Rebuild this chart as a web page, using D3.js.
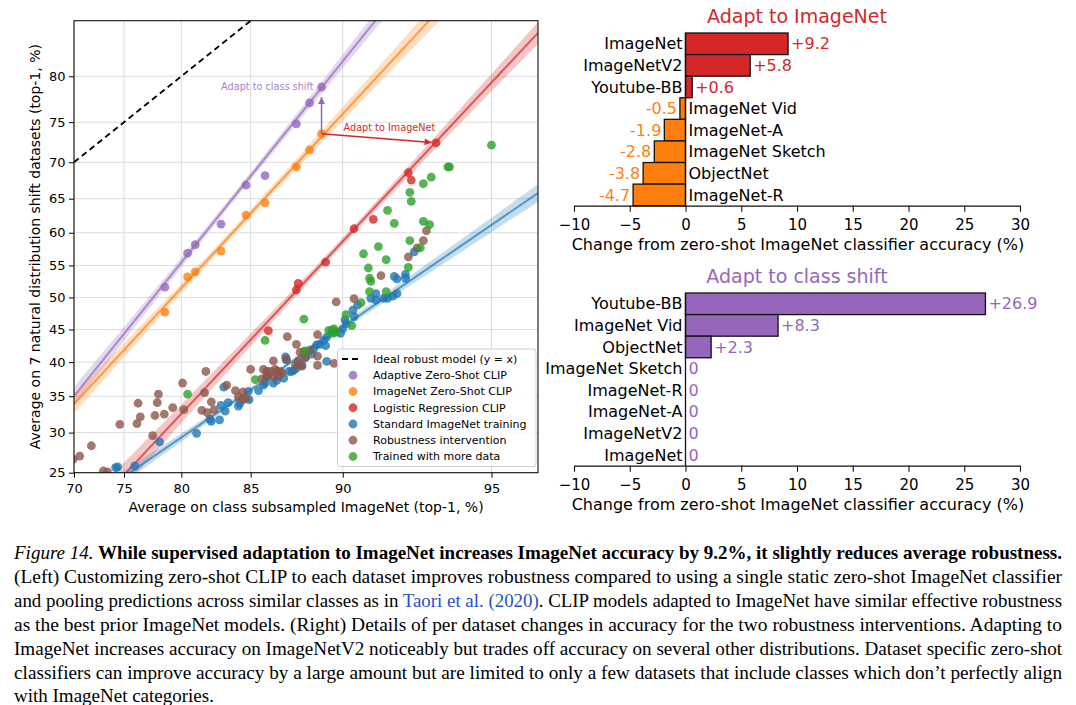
<!DOCTYPE html>
<html><head><meta charset="utf-8">
<script src="https://cdn.jsdelivr.net/npm/d3@7"></script>
<style>body{margin:0;background:#fff}svg{display:block}text{font-family:"DejaVu Sans",sans-serif}</style>
</head><body>
<svg id="c" width="1076" height="705"></svg>
<script>
// ---------------- DATA ----------------
const xTicks = [70,75,80,85,90,95];
const yTicks = [25,30,35,40,45,50,55,60,65,70,75,80];

const clipX      = [78.65,80.5,81.1,83.0,84.7,85.9,87.7,88.4,89.0];
const adaptiveY  = [51.6,56.9,58.2,61.3,66.9,68.2,74.8,77.2,78.9];
const zeroShotY  = [47.7,53.2,54.0,57.2,62.6,64.4,69.4,71.6,73.6];
const logregX    = [86.1,87.7,87.8,89.2,90.5,91.3,92.6,92.7,93.5];
const logregY    = [44.8,51.2,52.2,55.5,60.6,62.0,68.6,67.6,72.5];

const standardPts = [[74.2,25.6],[74.4,25.7],[76.0,25.8],[78.2,28.8],[81.2,29.9],[82.3,31.5],[82.2,31.8],[82.9,31.7],[83.3,32.9],[83.0,33.7],[83.5,34.1],[84.2,33.6],[84.3,34.0],[83.2,36.3],[84.9,34.5],[84.85,35.7],[85.5,35.8],[85.8,36.6],[85.9,36.9],[86.0,37.7],[86.4,36.9],[86.6,37.3],[87.0,37.6],[87.3,38.6],[87.45,38.6],[87.55,38.75],[87.7,39.1],[88.0,39.5],[87.1,40.8],[87.15,40.3],[87.8,39.8],[88.15,40.7],[88.5,41.2],[88.6,42.0],[88.75,42.6],[88.9,42.7],[89.1,43.3],[89.25,43.8],[89.2,42.5],[89.25,40.1],[89.9,44.4],[90.0,45.1],[90.15,45.9],[90.1,46.5],[90.45,48.0],[90.5,47.0],[90.65,48.8],[91.2,49.85],[91.4,49.6],[91.4,50.6],[91.7,49.85],[91.85,49.85],[92.05,50.2],[92.2,50.6],[92.1,53.3],[92.2,52.9],[92.5,53.6],[92.5,53.0],[92.8,57.1]];
const robustPts = [[69.9,26.6],[70.6,27.0],[71.8,28.3],[73.0,25.2],[73.4,25.1],[74.6,31.1],[76.3,34.0],[76.5,32.1],[76.2,31.2],[77.6,29.6],[77.8,32.3],[78.0,34.1],[78.1,35.3],[78.6,32.5],[79.3,33.4],[80.1,36.9],[80.2,33.1],[81.8,35.5],[81.9,38.6],[81.6,33.0],[82.0,32.7],[82.3,34.2],[82.5,33.1],[83.4,36.6],[84.0,35.8],[84.5,35.6],[84.2,34.9],[84.5,34.5],[84.7,34.7],[85.0,38.9],[85.8,38.9],[86.0,38.6],[86.2,38.6],[86.5,38.9],[86.6,38.6],[86.8,38.6],[86.7,37.9],[86.4,37.9],[86.0,37.9],[85.7,37.5],[86.9,38.4],[87.15,40.5],[86.4,40.2],[87.2,43.9],[87.7,42.7],[87.9,41.5],[88.1,41.5],[88.4,41.8],[88.2,40.7],[88.8,40.9],[88.8,39.5],[87.8,40.2],[88.0,39.4],[87.65,39.5],[88.8,44.2],[89.6,39.8],[89.7,49.3],[90.5,49.8],[91.6,53.4],[92.6,56.3],[92.9,57.7],[93.1,58.8],[93.2,60.3]];
const moreDataPts = [[80.5,35.3],[85.3,37.4],[85.9,43.3],[88.1,46.6],[88.15,41.7],[89.35,44.85],[89.5,44.85],[89.6,45.1],[89.7,44.6],[89.55,44.4],[90.15,47.3],[90.4,45.6],[90.8,49.2],[91.15,50.9],[91.8,50.9],[91.1,54.6],[91.15,53.0],[91.2,52.5],[90.9,56.8],[91.8,55.9],[91.5,57.9],[92.6,54.7],[92.65,58.8],[93.0,57.7],[92.1,61.4],[93.1,61.7],[93.3,61.2],[91.85,63.3],[92.65,65.9],[92.7,64.6],[93.1,67.1],[93.35,68.0],[93.85,69.4],[93.9,69.4],[95.0,72.2]];

// fitted trend lines: two anchor points (data %) + confidence band params (logit units)
const fitNames   = ["adaptive","zeroshot","logreg","standard"];
const fitAnchors = [[[70,35.0],[91.4,85.05]],[[70,33.9],[93.3,85.05]],[[75.2,25],[96,84.0]],[[75.55,25],[96,65.8]]];
const fitBand    = [[84,0.024,0.066],[84,0.024,0.066],[90,0.024,0.066],[87,0.014,0.042]];

const legendLabels = ["Ideal robust model (y = x)","Adaptive Zero-Shot CLIP","ImageNet Zero-Shot CLIP","Logistic Regression CLIP","Standard ImageNet training","Robustness intervention","Trained with more data"];

const imagenetCats  = ["ImageNet","ImageNetV2","Youtube-BB","ImageNet Vid","ImageNet-A","ImageNet Sketch","ObjectNet","ImageNet-R"];
const imagenetDelta = [9.2,5.8,0.6,-0.5,-1.9,-2.8,-3.8,-4.7];
const classCats     = ["Youtube-BB","ImageNet Vid","ObjectNet","ImageNet Sketch","ImageNet-R","ImageNet-A","ImageNetV2","ImageNet"];
const classDelta    = [26.9,8.3,2.3,0,0,0,0,0];
const barTicks      = [-10,-5,0,5,10,15,20,25,30];

const captionLines = [
 [["Figure 14.","i"],[" While supervised adaptation to ImageNet increases ImageNet accuracy by 9.2%, it slightly reduces average robustness.","b"]],
 [["(Left) Customizing zero-shot CLIP to each dataset improves robustness compared to using a single static zero-shot ImageNet classifier",""]],
 [["and pooling predictions across similar classes as in ",""],["Taori et al.","l"],[" ",""],["(2020)","l"],[". CLIP models adapted to ImageNet have similar effective robustness",""]],
 [["as the best prior ImageNet models. (Right) Details of per dataset changes in accuracy for the two robustness interventions. Adapting to",""]],
 [["ImageNet increases accuracy on ImageNetV2 noticeably but trades off accuracy on several other distributions. Dataset specific zero-shot",""]],
 [["classifiers can improve accuracy by a large amount but are limited to only a few datasets that include classes which don\u2019t perfectly align",""]],
 [["with ImageNet categories.",""]]
];

(function(){
const C = {blue:"#1f77b4",orange:"#ff7f0e",green:"#2ca02c",red:"#d62728",purple:"#9467bd",brown:"#8c564b"};
const fitColors = [C.purple,C.orange,C.red,C.blue];

const svg = d3.select("#c");
const logit = p => Math.log(p/(1-p));
const L = v => logit(v/100);
const pL=74,pR=538,pT=20.7,pB=472.7;
const X = d3.scaleLinear().domain([L(70),L(96)]).range([pL,pR]);
const Y = d3.scaleLinear().domain([L(25),L(85)]).range([pB,pT]);
const px = v => X(L(v)), py = v => Y(L(v));

const defs = svg.append("defs");
defs.append("clipPath").attr("id","pc").append("rect")
  .attr("x",pL).attr("y",pT).attr("width",pR-pL).attr("height",pB-pT);
[["ap",C.purple],["ar",C.red]].forEach(([id,col])=>{
  defs.append("marker").attr("id",id).attr("viewBox","0 0 10 10").attr("refX",10).attr("refY",5)
   .attr("markerUnits","userSpaceOnUse").attr("markerWidth",8).attr("markerHeight",7).attr("orient","auto")
   .append("path").attr("d","M0,0L10,5L0,10z").attr("fill",col);
});

const gGrid = svg.append("g").attr("stroke","#dcdcdc").attr("stroke-width",1);
xTicks.forEach(v=>gGrid.append("line").attr("x1",px(v)).attr("x2",px(v)).attr("y1",pT).attr("y2",pB));
yTicks.forEach(v=>gGrid.append("line").attr("y1",py(v)).attr("y2",py(v)).attr("x1",pL).attr("x2",pR));

const plot = svg.append("g").attr("clip-path","url(#pc)");
plot.append("line").attr("x1",px(70)).attr("y1",py(70)).attr("x2",px(85)).attr("y2",py(85))
  .attr("stroke","#000").attr("stroke-width",1.8).attr("stroke-dasharray","6,4");

const xs = d3.range(0,61).map(i=>L(70)+(L(96)-L(70))*i/60);
fitAnchors.forEach((a,k)=>{
  const lx1=L(a[0][0]),ly1=L(a[0][1]),lx2=L(a[1][0]),ly2=L(a[1][1]);
  const m=(ly2-ly1)/(lx2-lx1);
  const [xc,w0,kk]=fitBand[k]; const lxc=L(xc);
  const f=lx=>ly1+m*(lx-lx1), hw=lx=>Math.sqrt(w0*w0+Math.pow(kk*(lx-lxc),2));
  const area=d3.area().x(d=>X(d)).y0(d=>Y(f(d)-hw(d))).y1(d=>Y(f(d)+hw(d)));
  plot.append("path").attr("d",area(xs)).attr("fill",fitColors[k]).attr("fill-opacity",0.26);
  plot.append("line").attr("x1",X(xs[0])).attr("y1",Y(f(xs[0]))).attr("x2",X(xs[60])).attr("y2",Y(f(xs[60])))
    .attr("stroke",fitColors[k]).attr("stroke-width",2).attr("stroke-opacity",0.7);
});

function dots(pts,col){
  plot.append("g").selectAll("circle").data(pts).join("circle")
   .attr("cx",d=>px(d[0])).attr("cy",d=>py(d[1])).attr("r",4.4).attr("fill",col).attr("fill-opacity",0.8);
}
dots(standardPts,C.blue);
dots(robustPts,C.brown);
dots(moreDataPts,C.green);
dots(logregX.map((x,i)=>[x,logregY[i]]),C.red);
dots(clipX.map((x,i)=>[x,zeroShotY[i]]),C.orange);
dots(clipX.map((x,i)=>[x,adaptiveY[i]]),C.purple);

const last=clipX.length-1;
const o=[px(clipX[last]),py(zeroShotY[last])];
const pP=[px(clipX[last]),py(adaptiveY[last])];
const rI=logregX.length-1;
const pRd=[px(logregX[rI]),py(logregY[rI])];
function shorten(a,b,d){const dx=b[0]-a[0],dy=b[1]-a[1],l=Math.hypot(dx,dy);return [b[0]-dx/l*d,b[1]-dy/l*d];}
const eP=shorten(o,pP,10), eR=shorten(o,pRd,4.5);
svg.append("line").attr("x1",o[0]).attr("y1",o[1]).attr("x2",eP[0]).attr("y2",eP[1])
  .attr("stroke",C.purple).attr("stroke-width",1.5).attr("marker-end","url(#ap)");
svg.append("line").attr("x1",o[0]).attr("y1",o[1]).attr("x2",eR[0]).attr("y2",eR[1])
  .attr("stroke",C.red).attr("stroke-width",1.5).attr("marker-end","url(#ar)");
svg.append("text").attr("x",pP[0]-8).attr("y",pP[1]).attr("dy","0.35em").attr("text-anchor","end")
  .attr("font-size",9.7).attr("fill",C.purple).attr("fill-opacity",0.85).text("Adapt to class shift");
svg.append("text").attr("x",o[0]+22).attr("y",o[1]-6).attr("dy","0.35em")
  .attr("font-size",9.7).attr("fill",C.red).text("Adapt to ImageNet");

const ax=svg.append("g").attr("transform",`translate(0,${pB})`)
  .call(d3.axisBottom(X).tickValues(xTicks.map(L)).tickFormat((d,i)=>xTicks[i]).tickSize(5).tickPadding(5.8).tickSizeOuter(0));
const ay=svg.append("g").attr("transform",`translate(${pL},0)`)
  .call(d3.axisLeft(Y).tickValues(yTicks.map(L)).tickFormat((d,i)=>yTicks[i]).tickSize(5).tickPadding(3.5).tickSizeOuter(0));
[ax,ay].forEach(g=>{g.select(".domain").remove();g.selectAll("text").attr("font-size",13).attr("fill","#000").attr("font-family","DejaVu Sans");g.selectAll("line").attr("stroke","#000");});
svg.append("rect").attr("x",pL).attr("y",pT).attr("width",pR-pL).attr("height",pB-pT)
  .attr("fill","none").attr("stroke","#111").attr("stroke-width",1.1);
svg.append("text").attr("x",(pL+pR)/2).attr("y",512).attr("text-anchor","middle").attr("font-size",14)
  .text("Average on class subsampled ImageNet (top-1, %)");
svg.append("text").attr("transform",`translate(39.5,${(pT+pB)/2}) rotate(-90)`).attr("text-anchor","middle").attr("font-size",14)
  .text("Average on 7 natural distribution shift datasets (top-1, %)");

const lg=svg.append("g");
lg.append("rect").attr("x",337.5).attr("y",349).attr("width",198.5).attr("height",117.5).attr("rx",3)
  .attr("fill","#fff").attr("fill-opacity",0.85).attr("stroke","#cccccc");
const legCols=[null,C.purple,C.orange,C.red,C.blue,C.brown,C.green];
legendLabels.forEach((t,i)=>{
  const y=359+i*16.25;
  if(i===0) lg.append("line").attr("x1",342).attr("x2",362).attr("y1",y).attr("y2",y).attr("stroke","#000").attr("stroke-width",1.8).attr("stroke-dasharray","6,4");
  else lg.append("circle").attr("cx",353).attr("cy",y).attr("r",4.4).attr("fill",legCols[i]).attr("fill-opacity",0.8);
  lg.append("text").attr("x",373).attr("y",y).attr("dy","0.35em").attr("font-size",11).text(t);
});

const BX=d3.scaleLinear().domain([-10,30]).range([574,1020]);
function barChart(cats,vals,y0,y1,title,titleCol,titleY,posCol,negCol){
  const B=d3.scaleBand().domain(cats).range([y0,y1]).padding(0);
  const g=svg.append("g");
  g.append("text").attr("x",(574+1020)/2).attr("y",titleY).attr("text-anchor","middle").attr("font-size",19).attr("fill",titleCol).text(title);
  g.selectAll("rect.b").data(cats).join("rect").attr("class","b")
   .attr("x",(c,i)=>BX(Math.min(0,vals[i]))).attr("width",(c,i)=>Math.abs(BX(vals[i])-BX(0)))
   .attr("y",c=>B(c)).attr("height",B.bandwidth())
   .attr("fill",(c,i)=>vals[i]<0?negCol:posCol).attr("stroke","#111").attr("stroke-width",1.3);
  g.append("line").attr("x1",BX(0)).attr("x2",BX(0)).attr("y1",y0).attr("y2",y1).attr("stroke","#111").attr("stroke-width",1.3);
  g.selectAll("text.c").data(cats).join("text").attr("class","c")
   .attr("x",(c,i)=>vals[i]<0?BX(0)+3:BX(0)-3).attr("text-anchor",(c,i)=>vals[i]<0?"start":"end")
   .attr("y",c=>B(c)+B.bandwidth()/2).attr("dy","0.35em").attr("font-size",16).text(c=>c);
  g.selectAll("text.v").data(cats).join("text").attr("class","v")
   .attr("x",(c,i)=>vals[i]<0?BX(vals[i])-3:BX(vals[i])+3).attr("text-anchor",(c,i)=>vals[i]<0?"end":"start")
   .attr("y",c=>B(c)+B.bandwidth()/2).attr("dy","0.35em").attr("font-size",16)
   .attr("fill",(c,i)=>vals[i]<0?negCol:posCol)
   .text((c,i)=>vals[i]>0?"+"+vals[i].toFixed(1):vals[i]<0?vals[i].toFixed(1):"0");
  const a=svg.append("g").attr("transform",`translate(0,${y1})`)
   .call(d3.axisBottom(BX).tickValues(barTicks).tickSize(6).tickPadding(7.6).tickSizeOuter(0));
  a.select(".domain").attr("stroke","#111").attr("stroke-width",1.3);
  a.selectAll("line").attr("stroke","#111").attr("stroke-width",1.1);
  a.selectAll("text").attr("font-size",15).attr("fill","#000").attr("font-family","DejaVu Sans");
  svg.append("text").attr("x",(574+1020)/2+1).attr("y",y1+44.5).attr("text-anchor","middle").attr("font-size",16)
   .text("Change from zero-shot ImageNet classifier accuracy (%)");
}
barChart(imagenetCats,imagenetDelta,33,205.7,"Adapt to ImageNet",C.red,22.5,C.red,C.orange);
barChart(classCats,classDelta,293,465.7,"Adapt to class shift",C.purple,282.5,C.purple,C.purple);

const capBase=[559,583,607,631,655,679,702];
captionLines.forEach((parts,i)=>{
  const t=svg.append("text").attr("x",14).attr("y",capBase[i]).attr("font-size",19)
    .style("font-family","'Liberation Serif','Times New Roman',serif");
  if(i<captionLines.length-1) t.attr("textLength",1048).attr("lengthAdjust","spacingAndGlyphs");
  parts.forEach(([s,st])=>{
    const ts=t.append("tspan").text(s).style("font-family","'Liberation Serif','Times New Roman',serif");
    if(st==="i") ts.attr("font-style","italic");
    if(st==="b") ts.attr("font-weight","bold");
    if(st==="l") ts.attr("fill","#2a4fc4");
  });
});
})();
</script></body></html>
